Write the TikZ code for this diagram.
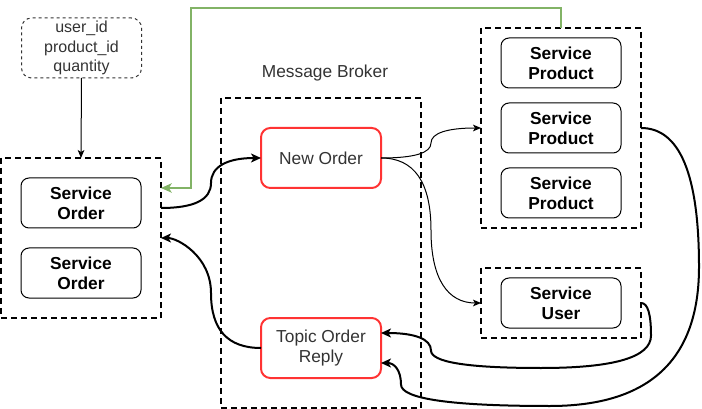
\documentclass[tikz,border=0pt]{standalone}
\usepackage{fontspec}
\setmainfont{Liberation Sans}
\usetikzlibrary{arrows.meta,calc}
\definecolor{redb}{HTML}{FF3333}
\definecolor{txtg}{HTML}{333333}
\definecolor{greenl}{HTML}{82B366}
\begin{document}
\begin{tikzpicture}[x=0.75pt,y=-0.75pt,
  grp/.style={draw=black,line width=1.5pt,dash pattern=on 4.5pt off 3pt,inner sep=0pt,outer sep=0pt},
  svc/.style={draw=black,line width=0.75pt,rounded corners=6pt,minimum width=90pt,minimum height=37.5pt,inner sep=0pt,outer sep=0pt,align=center,font=\fontsize{13}{15}\selectfont\bfseries},
  topic/.style={draw=redb,line width=1.5pt,rounded corners=7pt,minimum width=90pt,minimum height=45pt,inner sep=0pt,outer sep=0pt,align=center,text=txtg,font=\fontsize{13}{15}\selectfont},
  notebox/.style={draw=txtg,line width=0.75pt,dash pattern=on 2.25pt off 2.25pt,rounded corners=7.5pt,minimum width=90pt,minimum height=45pt,inner sep=0pt,outer sep=0pt,align=center,text=txtg,font=\fontsize{12}{14.5}\selectfont},
  thickarrow/.style={line width=1.5pt,-{Stealth[length=7.5pt,width=6.75pt,inset=2pt]}},
  thinarrow/.style={line width=0.75pt,-{Stealth[length=6pt,width=5pt,inset=1.5pt]}},
  greenarrow/.style={draw=greenl,line width=1.2pt,-{Stealth[length=8pt,width=7pt,inset=2pt,fill=greenl]}}
]
\useasboundingbox (0,0) rectangle (702,409);

% groups
\node[grp,minimum width=120pt,minimum height=120pt] (sogrp) at (81,238) {};
\node[grp,minimum width=150pt,minimum height=232.5pt] (broker) at (321,253) {};
\node[grp,minimum width=120pt,minimum height=150pt] (pgrp) at (561,128) {};
\node[grp,minimum width=120pt,minimum height=52.5pt] (ugrp) at (561,303) {};

% note
\node[notebox] (note) at (81.5,48) {user\_id\\product\_id\\quantity};

% label
\node[text=txtg,font=\fontsize{13}{15}\selectfont] (brokerlbl) at (325,73) {Message Broker};

% services
\node[svc] (so1) at (81,203) {Service\\Order};
\node[svc] (so2) at (81,273) {Service\\Order};
\node[svc] (p1) at (561,63) {Service\\Product};
\node[svc] (p2) at (561,128) {Service\\Product};
\node[svc] (p3) at (561,193) {Service\\Product};
\node[svc] (su) at (561,303) {Service\\User};

% topics
\node[topic] (neworder) at (321,158) {New Order};
\node[topic] (tor) at (321,348) {Topic Order\\Reply};

% note arrow
\draw[line width=0.75pt,-{Stealth[length=6pt,width=5pt,inset=1.5pt]}] (note.south) -- (sogrp.north);

% green feedback
\draw[greenarrow] (pgrp.north) |- (191,8) |- ([yshift=37.5pt]sogrp.east);

% service order -> new order
\draw[thickarrow] ([yshift=22.5pt]sogrp.east) .. controls (194.3,208) and (211,199.7) .. (211,183)
  .. controls (211,166.3) and (227.7,158) .. (neworder.west);

% new order -> products
\draw[thinarrow] (neworder.east) .. controls (414.3,158) and (431,153) .. (431,143)
  .. controls (431,133) and (447.7,128) .. (pgrp.west);

% new order -> user
\draw[thinarrow] (neworder.east) .. controls (414.3,158) and (431,182.2) .. (431,230.5)
  .. controls (431,278.8) and (447.7,303) .. (ugrp.west);

% products -> topic order reply
\draw[thickarrow] (pgrp.east) .. controls (679.7,128) and (699,174.3) .. (699,267)
  .. controls (699,359.7) and (649.3,406) .. (550,406)
  .. controls (450.7,406) and (401,398.8) .. (401,384.5)
  .. controls (401,370.2) and (394.3,363) .. ([yshift=-11.25pt]tor.east);

% user -> topic order reply
\draw[thickarrow] (ugrp.east) .. controls (647.7,303) and (651,313.8) .. (651,335.5)
  .. controls (651,357.2) and (614.3,368) .. (541,368)
  .. controls (467.7,368) and (431,362.2) .. (431,350.5)
  .. controls (431,338.8) and (414.3,333) .. ([yshift=11.25pt]tor.east);

% topic order reply -> service order
\draw[thickarrow] (tor.west) .. controls (227.7,348) and (211,329.7) .. (211,293)
  .. controls (211,256.3) and (177.7,238) .. (sogrp.east);
\end{tikzpicture}
\end{document}
